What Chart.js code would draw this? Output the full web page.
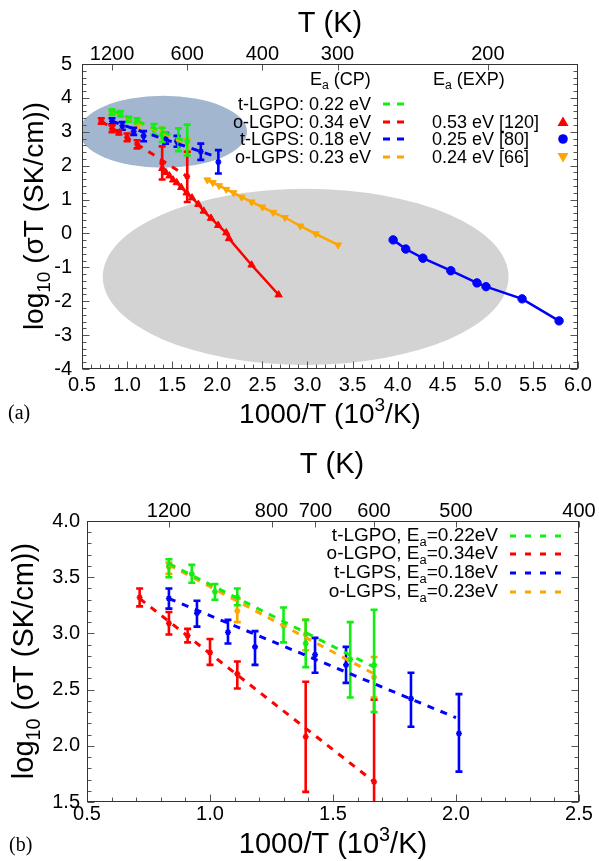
<!DOCTYPE html>
<html><head><meta charset="utf-8">
<script src="https://cdn.jsdelivr.net/npm/chart.js@4.4.1/dist/chart.umd.min.js"></script>
<style>
html,body{margin:0;padding:0;background:#fff;}
#wrap{position:relative;width:599px;height:861px;overflow:hidden;}
canvas{position:absolute;left:0;}
</style></head><body>
<div id="wrap">
<canvas id="c1" width="599" height="430" style="top:0px"></canvas>
<canvas id="c2" width="599" height="431" style="top:430px"></canvas>
</div>
<script>
// ---------------- DATA ----------------
// Temperature tick labels (top axes), in K
const tempTicksA = [1200, 600, 400, 300, 200];
const tempTicksB = [1200, 800, 700, 600, 500, 400];

// CP simulation points: 1000/T, log10(sigma T), error bar low / high
const tLGPO_x  = [0.833, 0.926, 1.02, 1.111, 1.299, 1.389, 1.57, 1.667];
const tLGPO_y  = [3.60, 3.53, 3.37, 3.32, 3.07, 2.91, 2.77, 2.72];
const tLGPO_lo = [3.50, 3.45, 3.30, 3.25, 2.92, 2.70, 2.43, 2.30];
const tLGPO_hi = [3.66, 3.61, 3.44, 3.40, 3.23, 3.12, 3.10, 3.21];

const oLGPO_x  = [0.714, 0.833, 0.909, 1.0, 1.111, 1.389, 1.667];
const oLGPO_y  = [3.32, 3.09, 2.98, 2.83, 2.64, 2.08, 1.68];
const oLGPO_lo = [3.24, 2.99, 2.92, 2.72, 2.51, 1.59, 0.93];
const oLGPO_hi = [3.40, 3.19, 3.04, 2.95, 2.75, 2.57, 2.41];

const tLGPS_x  = [0.833, 0.947, 1.073, 1.183, 1.427, 1.553, 1.817, 2.012];
const tLGPS_y  = [3.31, 3.18, 3.01, 2.88, 2.81, 2.72, 2.42, 2.11];
const tLGPS_lo = [3.22, 3.06, 2.91, 2.72, 2.65, 2.56, 2.17, 1.77];
const tLGPS_hi = [3.40, 3.29, 3.12, 3.02, 2.96, 2.88, 2.65, 2.46];

const oLGPS_x  = [0.833, 1.111, 1.389, 1.667];
const oLGPS_y  = [3.59, 3.20, 2.99, 2.61];
const oLGPS_lo = [3.53, 3.10, 2.85, 2.43];
const oLGPS_hi = [3.63, 3.31, 3.12, 2.79];

// Arrhenius fits (end points)
const tLGPO_fit_x = [0.833, 1.667]; const tLGPO_fit_y = [3.62, 2.70];
const oLGPO_fit_x = [0.714, 1.667]; const oLGPO_fit_y = [3.31, 1.68];
const tLGPS_fit_x = [0.833, 2.0];   const tLGPS_fit_y = [3.31, 2.25];
const oLGPS_fit_x = [0.833, 1.667]; const oLGPS_fit_y = [3.61, 2.64];

// Experimental data
const oLGPO_exp_x = [1.39, 1.43, 1.47, 1.51, 1.55, 1.60, 1.66, 1.72, 1.79, 1.85, 1.93, 2.01, 2.10, 2.13, 2.38, 2.68];
const oLGPO_exp_y = [1.92, 1.80, 1.70, 1.58, 1.50, 1.36, 1.20, 1.05, 0.86, 0.66, 0.45, 0.24, 0.02, -0.15, -0.93, -1.81];
const oLGPS_exp_x = [1.89, 1.95, 2.02, 2.10, 2.18, 2.27, 2.38, 2.50, 2.62, 2.75, 2.92, 3.09, 3.34];
const oLGPS_exp_y = [1.58, 1.50, 1.41, 1.30, 1.20, 1.07, 0.93, 0.78, 0.62, 0.47, 0.22, -0.01, -0.34];
const tLGPS_exp_x = [3.95, 4.09, 4.28, 4.59, 4.88, 4.98, 5.38, 5.79];
const tLGPS_exp_y = [-0.19, -0.46, -0.73, -1.10, -1.46, -1.57, -1.93, -2.58];

// Shaded regions in panel (a): [centre x, centre y, half-width, half-height] in data units
const regionCP  = [1.40, 3.00, 0.93, 1.06];
const regionEXP = [2.98, -1.28, 2.25, 2.60];

// Legend texts
const legendNames = ['t-LGPO', 'o-LGPO', 't-LGPS', 'o-LGPS'];
const legendEaCP  = ['0.22', '0.34', '0.18', '0.23'];
const legendEaEXP = ['', '0.53 eV [120]', '0.25 eV [80]', '0.24 eV [66]'];

// ---------------- STYLE ----------------
const COL = {g:'#11ee11', r:'#ff0000', b:'#0000ff', o:'#ffa500'};
const FONT = "'Liberation Sans', Arial, Helvetica, sans-serif";
const SERIF = "'Liberation Serif', 'Times New Roman', serif";

function pts(xs, ys){ return xs.map((x,i)=>({x:x, y:ys[i]})); }

function fitDS(xs, ys, c){
  return {data:pts(xs,ys), showLine:true, borderColor:c, backgroundColor:c, borderWidth:3,
          borderDash:[7,7], pointRadius:0, fill:false, tension:0};
}
function cpDS(xs, ys, lo, hi, c){
  return {data:pts(xs,ys), showLine:false, borderColor:c, backgroundColor:c, pointStyle:'star',
          pointRadius:3, borderWidth:1.6, errLo:lo, errHi:hi};
}
function expDS(xs, ys, c, style, rot, r){
  return {data:pts(xs,ys), showLine:true, borderColor:c, backgroundColor:c, borderWidth:2.5,
          pointStyle:style, rotation:rot||0, pointRadius:r, pointBorderWidth:1, fill:false, tension:0};
}

function cpDatasets(){
  return [
    fitDS(tLGPO_fit_x, tLGPO_fit_y, COL.g),
    fitDS(oLGPO_fit_x, oLGPO_fit_y, COL.r),
    fitDS(tLGPS_fit_x, tLGPS_fit_y, COL.b),
    fitDS(oLGPS_fit_x, oLGPS_fit_y, COL.o),
    cpDS(tLGPO_x, tLGPO_y, tLGPO_lo, tLGPO_hi, COL.g),
    cpDS(oLGPO_x, oLGPO_y, oLGPO_lo, oLGPO_hi, COL.r),
    cpDS(tLGPS_x, tLGPS_y, tLGPS_lo, tLGPS_hi, COL.b),
    cpDS(oLGPS_x, oLGPS_y, oLGPS_lo, oLGPS_hi, COL.o)
  ];
}

// ---------------- PLUGINS ----------------
const errorBarPlugin = {
  id:'errbars',
  beforeDatasetDraw(chart, args){
    const ds = chart.data.datasets[args.index];
    if (!ds.errLo) return;
    const {ctx, chartArea:a} = chart; const xs = chart.scales.x, ys = chart.scales.y;
    ctx.save(); ctx.beginPath(); ctx.rect(a.left, a.top, a.width, a.height); ctx.clip();
    ctx.strokeStyle = ds.borderColor; ctx.lineWidth = 2.6; ctx.lineCap = 'butt';
    ds.data.forEach((p,i)=>{
      const px = xs.getPixelForValue(p.x);
      const y1 = ys.getPixelForValue(ds.errLo[i]), y2 = ys.getPixelForValue(ds.errHi[i]);
      ctx.beginPath();
      ctx.moveTo(px,y1); ctx.lineTo(px,y2);
      ctx.moveTo(px-3.5,y1); ctx.lineTo(px+3.5,y1);
      ctx.moveTo(px-3.5,y2); ctx.lineTo(px+3.5,y2);
      ctx.stroke();
    });
    ctx.restore();
  }
};

function regionPlugin(regions){
  return {id:'regions', beforeDatasetsDraw(chart){
    const {ctx, chartArea:a} = chart; const xs = chart.scales.x, ys = chart.scales.y;
    ctx.save(); ctx.beginPath(); ctx.rect(a.left, a.top, a.width, a.height); ctx.clip();
    regions.forEach(([r,color])=>{
      const cx = xs.getPixelForValue(r[0]), cy = ys.getPixelForValue(r[1]);
      const rx = Math.abs(xs.getPixelForValue(r[0]+r[2]) - cx);
      const ry = Math.abs(ys.getPixelForValue(r[1]+r[3]) - cy);
      ctx.beginPath(); ctx.ellipse(cx, cy, rx, ry, 0, 0, Math.PI*2);
      ctx.fillStyle = color; ctx.fill();
    });
    ctx.restore();
  }};
}

function framePlugin(o){
  return {id:'frame', afterDatasetsDraw(chart){
    const {ctx, chartArea:a} = chart; const xs = chart.scales.x, ys = chart.scales.y, x2 = chart.scales.x2;
    ctx.save();
    ctx.strokeStyle = '#555'; ctx.lineWidth = 1;
    ctx.beginPath();
    const L = Math.round(a.left)+0.5, R = Math.round(a.right)-0.5, T = Math.round(a.top)+0.5, B = Math.round(a.bottom)-0.5;
    let n = Math.round((ys.max-ys.min)/o.yMinor);
    for (let i=0;i<=n;i++){
      const v = ys.min + i*o.yMinor; const py = Math.round(ys.getPixelForValue(v))+0.5;
      const maj = Math.abs(v/o.yMajor - Math.round(v/o.yMajor)) < 1e-6; const len = maj?7:4;
      ctx.moveTo(L,py); ctx.lineTo(L+len,py); ctx.moveTo(R,py); ctx.lineTo(R-len,py);
    }
    n = Math.round((xs.max-xs.min)/o.xMinor);
    for (let i=0;i<=n;i++){
      const v = xs.min + i*o.xMinor; const px = Math.round(xs.getPixelForValue(v))+0.5;
      const maj = Math.abs(v/o.xMajor - Math.round(v/o.xMajor)) < 1e-6; const len = maj?7:4;
      ctx.moveTo(px,B); ctx.lineTo(px,B-len);
    }
    x2.ticks.forEach(t=>{ const px = Math.round(x2.getPixelForValue(t.value))+0.5; ctx.moveTo(px,T); ctx.lineTo(px,T+6); });
    ctx.stroke();
    ctx.strokeStyle = '#333';
    ctx.strokeRect(L, T, R-L, B-T);
    ctx.restore();
  }};
}

function rich(ctx, parts, x, y, size, family, align){
  ctx.textAlign = 'left'; ctx.textBaseline = 'alphabetic';
  const w = parts.map(([t,k])=>{ ctx.font = (k? size*0.68 : size) + 'px ' + family; return ctx.measureText(t).width; });
  const tot = w.reduce((s,v)=>s+v,0);
  let cx = align==='center' ? x - tot/2 : (align==='right' ? x - tot : x);
  parts.forEach(([t,k],i)=>{
    ctx.font = (k? size*0.68 : size) + 'px ' + family;
    const dy = k===1 ? size*0.24 : (k===2 ? -size*0.42 : 0);
    ctx.fillText(t, cx, y+dy); cx += w[i];
  });
}

function dashSample(ctx, x1, x2, y, c, dash){
  ctx.save(); ctx.strokeStyle = c; ctx.lineWidth = 3; ctx.setLineDash(dash);
  ctx.beginPath(); ctx.moveTo(x1,y); ctx.lineTo(x2,y); ctx.stroke(); ctx.restore();
}
function marker(ctx, kind, x, y, c){
  ctx.save(); ctx.fillStyle = c; ctx.beginPath();
  if (kind==='up'){ ctx.moveTo(x,y-5.5); ctx.lineTo(x+5.5,y+4); ctx.lineTo(x-5.5,y+4); }
  else if (kind==='down'){ ctx.moveTo(x,y+5.5); ctx.lineTo(x+5.5,y-4); ctx.lineTo(x-5.5,y-4); }
  else { ctx.arc(x,y,4.8,0,Math.PI*2); }
  ctx.closePath(); ctx.fill(); ctx.restore();
}

// ---------------- CHART BUILDER ----------------
function makeChart(id, cfg){
  return new Chart(document.getElementById(id), {
    type:'scatter',
    data:{datasets:cfg.datasets},
    options:{
      responsive:false, animation:false, events:[],
      layout:{padding:{left:0, right:cfg.padRight, top:0, bottom:0}},
      plugins:{legend:{display:false}, tooltip:{enabled:false}},
      scales:{
        x:{type:'linear', position:'bottom', min:cfg.xmin, max:cfg.xmax,
           ticks:{stepSize:0.5, autoSkip:false, maxRotation:0, padding:cfg.padX, color:'#000',
                  font:{family:FONT, size:20}, callback:v=>Number(v).toFixed(1)},
           grid:{display:false, drawTicks:false, tickLength:0}, border:{display:false},
           afterFit:s=>{s.height = cfg.hBottom;}},
        x2:{type:'linear', position:'top', min:cfg.xmin, max:cfg.xmax,
           afterBuildTicks:s=>{ s.ticks = cfg.temps.map(T=>({value:1000/T})); },
           ticks:{autoSkip:false, maxRotation:0, padding:cfg.padX2, color:'#000',
                  font:{family:FONT, size:20}, callback:v=>String(Math.round(1000/v))},
           grid:{display:false, drawTicks:false, tickLength:0}, border:{display:false},
           afterFit:s=>{s.height = cfg.hTop;}},
        y:{type:'linear', position:'left', min:cfg.ymin, max:cfg.ymax,
           ticks:{stepSize:cfg.yStep, autoSkip:false, padding:cfg.padY, color:'#000',
                  font:{family:FONT, size:20}, callback:cfg.yFmt},
           grid:{display:false, drawTicks:false, tickLength:0}, border:{display:false},
           afterFit:s=>{s.width = cfg.wLeft;}}
      }
    },
    plugins: cfg.plugins
  });
}

// ---------------- PANEL (a) ----------------
const textA = {id:'textA', afterDraw(chart){
  const ctx = chart.ctx; ctx.save(); ctx.fillStyle = '#000';
  ctx.save(); ctx.translate(43, 216); ctx.rotate(-Math.PI/2);
  rich(ctx, [['log',0],['10',1],[' (\u03C3T (SK/cm))',0]], 0, 0, 28, FONT, 'center'); ctx.restore();
  rich(ctx, [['1000/T (10',0],['3',2],['/K)',0]], 330, 423, 28, FONT, 'center');
  rich(ctx, [['T (K)',0]], 330, 32, 29, FONT, 'center');
  rich(ctx, [['(a)',0]], 8, 419, 20, SERIF, 'left');
  // legend
  rich(ctx, [['E',0],['a',1],[' (CP)',0]], 310, 85, 18, FONT, 'left');
  rich(ctx, [['E',0],['a',1],[' (EXP)',0]], 433, 85, 18, FONT, 'left');
  const base = [110, 128, 145, 163]; const cols = [COL.g, COL.r, COL.b, COL.o];
  const mk = [null, 'up', 'circle', 'down'];
  for (let i=0;i<4;i++){
    rich(ctx, [[legendNames[i] + ': ' + legendEaCP[i] + ' eV',0]], 371, base[i], 18, FONT, 'right');
    dashSample(ctx, 383, 404, base[i]-6, cols[i], [7,7]);
    if (legendEaEXP[i]){ rich(ctx, [[legendEaEXP[i],0]], 432, base[i], 18, FONT, 'left'); marker(ctx, mk[i], 563, base[i]-6, cols[i]); }
  }
  ctx.restore();
}};

makeChart('c1', {
  xmin:0.5, xmax:6.0, ymin:-4, ymax:5, yStep:1, yFmt:v=>String(v),
  temps:tempTicksA, padRight:21, hBottom:61, hTop:64, wLeft:82, padX:4, padX2:-2, padY:10,
  datasets:[
    expDS(oLGPO_exp_x, oLGPO_exp_y, COL.r, 'triangle', 0, 4.2),
    expDS(oLGPS_exp_x, oLGPS_exp_y, COL.o, 'triangle', 180, 4),
    expDS(tLGPS_exp_x, tLGPS_exp_y, COL.b, 'circle', 0, 4.2),
  ].concat(cpDatasets()),
  plugins:[regionPlugin([[regionCP,'#a2b6cf'],[regionEXP,'#d3d3d3']]), errorBarPlugin,
           framePlugin({xMajor:0.5, xMinor:0.1, yMajor:1, yMinor:0.2}), textA]
});

// ---------------- PANEL (b) ----------------
const textB = {id:'textB', afterDraw(chart){
  const ctx = chart.ctx; ctx.save(); ctx.fillStyle = '#000';
  ctx.save(); ctx.translate(33, 231); ctx.rotate(-Math.PI/2);
  rich(ctx, [['log',0],['10',1],[' (\u03C3T (SK/cm))',0]], 0, 0, 29, FONT, 'center'); ctx.restore();
  rich(ctx, [['1000/T (10',0],['3',2],['/K)',0]], 333, 423, 29, FONT, 'center');
  rich(ctx, [['T (K)',0]], 332, 43, 29, FONT, 'center');
  rich(ctx, [['(b)',0]], 9, 421, 20, SERIF, 'left');
  const base = [111, 129, 148, 167]; const cols = [COL.g, COL.r, COL.b, COL.o];
  for (let i=0;i<4;i++){
    rich(ctx, [[legendNames[i] + ', E',0],['a',1],['=' + legendEaCP[i] + 'eV',0]], 498, base[i], 19, FONT, 'right');
    dashSample(ctx, 510, 563, base[i]-5, cols[i], [6,9]);
  }
  ctx.restore();
}};

makeChart('c2', {
  xmin:0.5, xmax:2.5, ymin:1.5, ymax:4.0, yStep:0.5, yFmt:v=>Number(v).toFixed(1),
  temps:tempTicksB, padRight:20, hBottom:59, hTop:91, wLeft:87, padX:0, padX2:-2, padY:7,
  datasets:cpDatasets(),
  plugins:[errorBarPlugin, framePlugin({xMajor:0.5, xMinor:0.1, yMajor:0.5, yMinor:0.1}), textB]
});
</script>
</body></html>
